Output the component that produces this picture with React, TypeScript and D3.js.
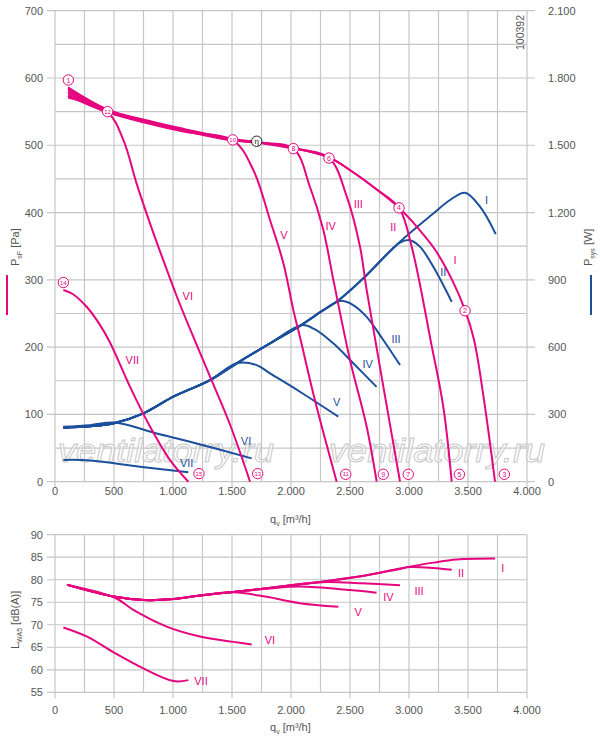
import * as d3 from 'd3';

type Pt = [number, number];

// axis ticks
const qTicks = [0, 500, 1000, 1500, 2000, 2500, 3000, 3500, 4000];
const paTicks = [0, 100, 200, 300, 400, 500, 600, 700];
const wTicks = [0, 300, 600, 900, 1200, 1500, 1800, 2100];
const dbTicks = [55, 60, 65, 70, 75, 80, 85, 90];

const speeds = ['I', 'II', 'III', 'IV', 'V', 'VI', 'VII'];

// static pressure p_sF [Pa] vs q_v [m3/h], one curve per speed step
const pressure: Pt[][] = [
  [[110, 586], [446, 553], [800, 536], [1100, 524], [1511, 509], [1709, 505], [2020, 496], [2322, 482], [2517, 461], [2721, 435], [2915, 407], [3076, 377], [3220, 345], [3365, 300], [3475, 255], [3551, 211], [3636, 121], [3729, 0]],
  [[110, 583], [446, 552], [800, 535], [1100, 523], [1511, 508], [1709, 505], [2020, 496], [2322, 482], [2517, 461], [2721, 435], [2915, 407], [3023, 349], [3191, 203], [3291, 111], [3362, 0]],
  [[110, 580], [446, 551], [800, 534], [1100, 522], [1511, 508], [1709, 504], [2020, 495], [2322, 481], [2472, 424], [2585, 349], [2641, 285], [2763, 161], [2924, 0]],
  [[110, 577], [446, 550], [800, 533], [1100, 521], [1511, 507], [1709, 504], [2020, 495], [2161, 438], [2274, 374], [2359, 300], [2500, 181], [2641, 82], [2726, 0]],
  [[110, 574], [446, 549], [800, 532], [1100, 520], [1511, 507], [1681, 463], [1822, 389], [1935, 325], [2020, 255], [2076, 215], [2203, 121], [2387, 0]],
  [[110, 571], [446, 549], [579, 508], [692, 443], [805, 384], [918, 329], [1031, 276], [1144, 227], [1314, 156], [1483, 85], [1653, 0]],
  [[71, 285], [150, 279], [268, 260], [370, 236], [466, 207], [636, 141], [805, 82], [975, 32], [1130, 0]],
];

// system power P_sys [W]
const power: Pt[][] = [
  [[71, 241], [297, 247], [508, 262], [749, 305], [1003, 379], [1314, 453], [1540, 528], [1822, 617], [2076, 695], [2274, 765], [2400, 808], [2613, 907], [2924, 1070], [3206, 1196], [3348, 1256], [3475, 1288], [3602, 1226], [3735, 1104]],
  [[71, 241], [297, 247], [508, 262], [749, 305], [1003, 379], [1314, 453], [1540, 528], [1822, 617], [2076, 695], [2274, 765], [2400, 808], [2613, 907], [2924, 1066], [3009, 1077], [3093, 1048], [3206, 958], [3362, 802]],
  [[71, 241], [297, 247], [508, 262], [749, 305], [1003, 379], [1314, 453], [1540, 528], [1822, 617], [2076, 695], [2274, 765], [2415, 806], [2520, 790], [2641, 735], [2782, 632], [2924, 520]],
  [[71, 241], [297, 247], [508, 262], [749, 305], [1003, 379], [1314, 453], [1540, 528], [1822, 617], [2090, 698], [2200, 680], [2358, 617], [2528, 528], [2725, 423]],
  [[71, 242], [297, 248], [508, 262], [749, 305], [1003, 379], [1314, 453], [1545, 529], [1709, 520], [1822, 483], [2076, 401], [2401, 290]],
  [[71, 245], [297, 252], [508, 264], [862, 215], [1144, 178], [1667, 104]],
  [[71, 97], [297, 95], [720, 67], [1130, 42]],
];

// sound power L_WA5 [dB(A)]
const sound: Pt[][] = [
  [[113, 78.8], [508, 76.2], [749, 75.5], [1003, 75.7], [1229, 76.5], [1511, 77.3], [1794, 78.1], [2076, 79.0], [2358, 79.9], [2641, 81.0], [2924, 82.5], [3206, 83.8], [3404, 84.5], [3729, 84.7]],
  [[113, 78.8], [508, 76.2], [749, 75.5], [1003, 75.7], [1229, 76.5], [1511, 77.3], [1794, 78.1], [2076, 79.0], [2358, 79.9], [2641, 81.0], [2924, 82.4], [3008, 82.8], [3206, 82.6], [3362, 82.2]],
  [[113, 78.8], [508, 76.2], [749, 75.5], [1003, 75.7], [1229, 76.5], [1511, 77.3], [1794, 78.1], [2076, 79.0], [2300, 79.5], [2600, 79.2], [2924, 78.8]],
  [[113, 78.8], [508, 76.2], [749, 75.5], [1003, 75.7], [1229, 76.5], [1511, 77.3], [1794, 78.0], [2076, 78.5], [2500, 77.7], [2725, 77.1]],
  [[113, 78.8], [508, 76.2], [749, 75.5], [1003, 75.7], [1229, 76.5], [1511, 77.2], [1794, 76.2], [2076, 74.8], [2401, 74.0]],
  [[100, 78.9], [508, 76.0], [664, 73.3], [946, 69.6], [1229, 67.4], [1511, 66.2], [1667, 65.6]],
  [[71, 69.4], [268, 67.4], [508, 63.7], [749, 60.3], [1003, 57.5], [1130, 57.7]],
];

// label anchors in data units
const pressureLabels: Pt[] = [[3390, 330], [2867, 379], [2570, 412], [2336, 380], [1941, 367], [1125, 276], [655, 181]];
const powerLabels: Pt[] = [[3658, 1257], [3291, 936], [2890, 636], [2650, 525], [2387, 354], [1619, 180], [1116, 84]];
const soundLabels: Pt[] = [[3794, 82.5], [3441, 81.4], [3085, 77.6], [2825, 76.2], [2570, 72.8], [1822, 66.6], [1237, 57.4]];

// operating point markers
const markerIds = ['1', '12', '10', '8', '6', '4', '2', '14', '15', '13', '11', '9', '7', '5', '3'];
const markerQ = [113, 446, 1506, 2020, 2322, 2915, 3475, 71, 1220, 1718, 2464, 2782, 2994, 3427, 3808];
const markerP = [597, 550, 508, 495, 481, 407, 254, 296, 12, 12, 11, 11, 11, 11, 11];
const etaPoint: Pt = [1709, 506];

const PINK = '#e5077f';
const BLUE = '#1c4f9c';
const GRID = '#c6c6c6';
const TEXT = '#555';
const FONT = '"Liberation Sans", Arial, sans-serif';

const fmt = d3.formatLocale({ decimal: ',', thousands: '.', grouping: [3], currency: ['', ''] }).format(',');

export default function App() {
  const x = d3.scaleLinear().domain([0, 4000]).range([55, 527]);
  const yP = d3.scaleLinear().domain([0, 700]).range([481.7, 10.7]);
  const yW = d3.scaleLinear().domain([0, 2100]).range([481.7, 10.7]);
  const yL = d3.scaleLinear().domain([55, 90]).range([692.3, 534.7]);

  const curve = d3.curveCatmullRom.alpha(0.5);
  const lineP = d3.line<Pt>().x((d) => x(d[0])).y((d) => yP(d[1])).curve(curve);
  const lineW = d3.line<Pt>().x((d) => x(d[0])).y((d) => yW(d[1])).curve(curve);
  const lineL = d3.line<Pt>().x((d) => x(d[0])).y((d) => yL(d[1])).curve(curve);

  const vGrid = d3.range(0, 4001, 250);
  const hGridTop = d3.range(0, 701, 50);

  const watermark = (x0: number) => (
    <text
      x={x0}
      y={462}
      textLength={216}
      lengthAdjust="spacingAndGlyphs"
      fontSize={34}
      fontStyle="italic"
      fill="rgba(255,255,255,0.55)"
      stroke="#c9c9c9"
      strokeWidth={1}
    >
      ventilatorry.ru
    </text>
  );

  return (
    <svg
      width={600}
      height={740}
      style={{ position: 'absolute', left: 0, top: 0, background: '#fff' }}
      fontFamily={FONT}
    >
      {/* top chart grid */}
      <g stroke={GRID} strokeWidth={1.2}>
        {vGrid.map((q) => (
          <line key={'v' + q} x1={x(q)} x2={x(q)} y1={yP(700)} y2={yP(0) + (q % 500 === 0 ? 6 : 0)} />
        ))}
        {hGridTop.map((p) => (
          <line
            key={'h' + p}
            x1={x(0) - (p % 100 === 0 ? 8 : 0)}
            x2={x(4000) + (p % 100 === 0 ? 8 : 0)}
            y1={yP(p)}
            y2={yP(p)}
          />
        ))}
      </g>

      {/* bottom chart grid */}
      <g stroke={GRID} strokeWidth={1.2}>
        {vGrid.map((q) => (
          <line key={'bv' + q} x1={x(q)} x2={x(q)} y1={yL(90)} y2={yL(55) + (q % 500 === 0 ? 6 : 0)} />
        ))}
        {dbTicks.map((d) => (
          <line key={'bh' + d} x1={x(0) - 8} x2={x(4000)} y1={yL(d)} y2={yL(d)} />
        ))}
      </g>

      {watermark(58)}
      {watermark(329)}

      {/* tick labels */}
      <g fontSize={11} fill={TEXT}>
        {paTicks.map((p) => (
          <text key={'pa' + p} x={43} y={yP(p)} textAnchor="end" dominantBaseline="central">
            {p}
          </text>
        ))}
        {wTicks.map((w) => (
          <text key={'w' + w} x={548} y={yW(w)} dominantBaseline="central">
            {fmt(w)}
          </text>
        ))}
        {dbTicks.map((d) => (
          <text key={'db' + d} x={43} y={yL(d)} textAnchor="end" dominantBaseline="central">
            {d}
          </text>
        ))}
        {qTicks.map((q) => (
          <text key={'qt' + q} x={x(q)} y={495} textAnchor="middle">
            {fmt(q)}
          </text>
        ))}
        {qTicks.map((q) => (
          <text key={'qb' + q} x={x(q)} y={714} textAnchor="middle">
            {fmt(q)}
          </text>
        ))}
        <text x={270} y={523}>
          q<tspan fontSize={7} dy={3}>v</tspan>
          <tspan dy={-3}> [m³/h]</tspan>
        </text>
        <text x={270} y={731}>
          q<tspan fontSize={7} dy={3}>v</tspan>
          <tspan dy={-3}> [m³/h]</tspan>
        </text>
        <text transform="translate(19,266) rotate(-90)">
          P<tspan fontSize={7} dy={3}>sF</tspan>
          <tspan dy={-3}> [Pa]</tspan>
        </text>
        <text transform="translate(592,266) rotate(-90)">
          P<tspan fontSize={7} dy={3}>sys</tspan>
          <tspan dy={-3}> [W]</tspan>
        </text>
        <text transform="translate(19,649) rotate(-90)">
          L<tspan fontSize={7} dy={3}>WA5</tspan>
          <tspan dy={-3}> [dB(A)]</tspan>
        </text>
        <text transform="translate(524,50) rotate(-90)" fontSize={10.5}>
          100392
        </text>
      </g>
      <line x1={7} x2={7} y1={275} y2={315} stroke={PINK} strokeWidth={2} />
      <line x1={591} x2={591} y1={275} y2={315} stroke={BLUE} strokeWidth={2} />

      {/* power curves */}
      <g fill="none" stroke={BLUE} strokeWidth={2}>
        {power.map((c, i) => (
          <path key={'pw' + i} d={lineW(c) ?? ''} />
        ))}
      </g>

      {/* pressure curves */}
      <g fill="none" stroke={PINK} strokeWidth={2}>
        {pressure.map((c, i) => (
          <path key={'pr' + i} d={lineP(c) ?? ''} />
        ))}
      </g>

      {/* sound curves */}
      <g fill="none" stroke={PINK} strokeWidth={2}>
        {sound.map((c, i) => (
          <path key={'sd' + i} d={lineL(c) ?? ''} />
        ))}
      </g>

      {/* curve labels */}
      <g fontSize={11} dominantBaseline="central" textAnchor="middle">
        {speeds.map((s, i) => (
          <text key={'lp' + s} x={x(pressureLabels[i][0])} y={yP(pressureLabels[i][1])} fill={PINK}>
            {s}
          </text>
        ))}
        {speeds.map((s, i) => (
          <text key={'lw' + s} x={x(powerLabels[i][0])} y={yW(powerLabels[i][1])} fill={BLUE}>
            {s}
          </text>
        ))}
        {speeds.map((s, i) => (
          <text key={'ll' + s} x={x(soundLabels[i][0])} y={yL(soundLabels[i][1])} fill={PINK}>
            {s}
          </text>
        ))}
      </g>

      {/* markers */}
      <g>
        {markerIds.map((id, i) => (
          <g key={'m' + id} transform={`translate(${x(markerQ[i])},${yP(markerP[i])})`}>
            <circle r={5.2} fill="#fff" stroke={PINK} strokeWidth={1} />
            <text
              fontSize={id.length > 1 ? 6 : 7}
              fill={PINK}
              textAnchor="middle"
              dominantBaseline="central"
            >
              {id}
            </text>
          </g>
        ))}
        <g transform={`translate(${x(etaPoint[0])},${yP(etaPoint[1])})`}>
          <circle r={5.2} fill="#fff" stroke="#222" strokeWidth={1} />
          <text fontSize={8} fill="#222" textAnchor="middle" dominantBaseline="central">
            η
          </text>
        </g>
      </g>
    </svg>
  );
}
